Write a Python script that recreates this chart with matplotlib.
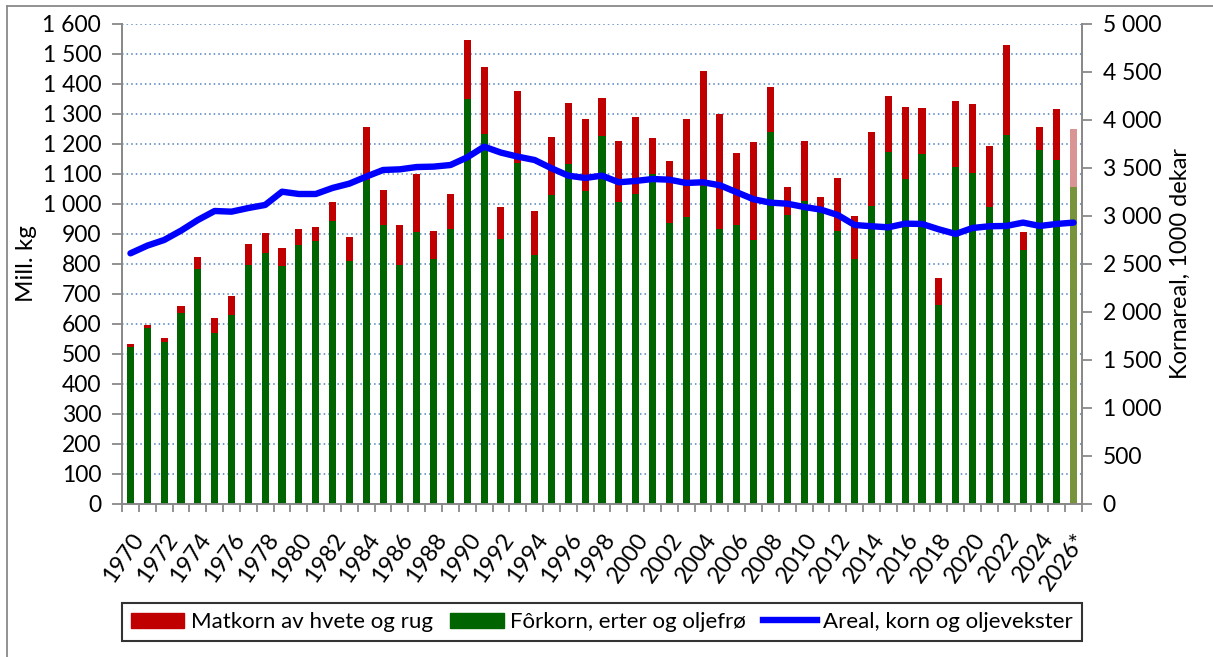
import matplotlib
matplotlib.use("Agg")
import matplotlib.pyplot as plt
import numpy as np
from matplotlib.patches import Patch
from matplotlib.lines import Line2D
from matplotlib.ticker import FuncFormatter, FixedLocator

plt.rcParams['font.family'] = ['Lato', 'DejaVu Sans']

years = [str(y) for y in range(1970, 2026)] + ["2026*"]

# totals (Mill. kg) read at the top of the red part
total = [533, 597, 554, 660, 824, 621, 694, 868, 902, 854,
         918, 922, 1008, 889, 1256, 1046, 931, 1101, 910, 1033,
         1546, 1456, 989, 1376, 978, 1223, 1337, 1282, 1352, 1209,
         1290, 1221, 1142, 1282, 1443, 1300, 1170, 1208, 1390, 1058,
         1211, 1024, 1088, 961, 1241, 1360, 1323, 1320, 753, 1343,
         1334, 1192, 1530, 906, 1258, 1317, 1250]
# Fôrkorn, erter og oljefrø (green part)
forkorn = [522, 585, 541, 638, 782, 571, 629, 797, 836, 794,
           862, 877, 943, 809, 1080, 929, 796, 907, 818, 916,
           1349, 1232, 884, 1136, 829, 1031, 1132, 1044, 1228, 1007,
           1034, 1101, 936, 958, 1061, 918, 931, 880, 1241, 962,
           1011, 975, 911, 817, 992, 1174, 1084, 1167, 663, 1124,
           1102, 991, 1231, 847, 1179, 1148, 1056]
# Areal, korn og oljevekster (1000 dekar)
areal = [2611, 2691, 2750, 2847, 2958, 3052, 3045, 3083, 3115, 3253,
         3229, 3229, 3292, 3337, 3410, 3479, 3486, 3510, 3514, 3531,
         3611, 3722, 3660, 3618, 3583, 3497, 3420, 3396, 3420, 3351,
         3365, 3385, 3378, 3344, 3351, 3320, 3247, 3174, 3139, 3128,
         3094, 3066, 3010, 2906, 2893, 2882, 2920, 2917, 2861, 2813,
         2875, 2893, 2896, 2931, 2896, 2917, 2931]

matkorn = [t - f for t, f in zip(total, forkorn)]

x = np.arange(len(years))
green_c = ['#006400'] * (len(years) - 1) + ['#77933C']
red_c = ['#C00000'] * (len(years) - 1) + ['#D99594']

fig = plt.figure(figsize=(12.13, 6.57), dpi=100)
ax = fig.add_axes([0.1006, 0.2329, 0.7914, 0.7306])
ax2 = ax.twinx()

ax.bar(x, forkorn, width=0.42, color=green_c, zorder=3)
ax.bar(x, matkorn, width=0.42, bottom=forkorn, color=red_c, zorder=3)
ax2.plot(x, areal, color='#0000FF', lw=4.6, solid_capstyle='round', zorder=4)

ax.set_xlim(-0.5, len(years) - 0.5)
ax.set_ylim(0, 1600)
ax2.set_ylim(0, 5000)
ax.set_yticks(np.arange(0, 1601, 100))
ax2.set_yticks(np.arange(0, 5001, 500))

fmt = FuncFormatter(lambda v, p: f"{int(v):,}".replace(",", " "))
ax.yaxis.set_major_formatter(fmt)
ax2.yaxis.set_major_formatter(fmt)

ax.grid(axis='y', color='#4F81BD', linestyle=(0, (1, 2)), lw=1.1, zorder=0)
ax.set_axisbelow(True)

ax.set_xticks(x[::2])
ax.set_xticklabels(years[::2], rotation=55, ha='right', rotation_mode='anchor')
ax.xaxis.set_minor_locator(FixedLocator(np.arange(-0.5, len(years), 1)))
ax.tick_params(axis='x', which='major', length=0, pad=18, labelsize=17)
ax.tick_params(axis='x', which='minor', length=6, width=1.3, color='#898989')
ax.tick_params(axis='y', length=7, width=1.3, color='#898989', labelsize=16.5, pad=8)
ax2.tick_params(axis='y', length=7, width=1.3, color='#898989', labelsize=16.5, pad=8)

for a in (ax, ax2):
    a.spines['top'].set_visible(False)
    for s in ('left', 'right', 'bottom'):
        a.spines[s].set_color('#898989')
        a.spines[s].set_linewidth(1.3)

ax.set_ylabel("Mill. kg", fontsize=17.5, labelpad=4)
ax2.set_ylabel("Kornareal, 1000 dekar", fontsize=17, labelpad=6)

handles = [Patch(color='#C00000'), Patch(color='#006400'),
           Line2D([0], [0], color='#0000FF', lw=4.6)]
labels = ["Matkorn av hvete og rug", "Fôrkorn, erter og oljefrø", "Areal, korn og oljevekster"]
leg = fig.legend(handles, labels, loc='lower left', ncol=3, mode='expand',
                 bbox_to_anchor=(0.1006, 0.0244, 0.7914, 0.064), fontsize=16,
                 fancybox=False, edgecolor='black', handlelength=2.4,
                 borderaxespad=0, handletextpad=0.3)
leg.get_frame().set_linewidth(1.5)

# outer chart border (only top and left edges visible)
fig.add_artist(Line2D([7 / 1213, 1], [1 - 6 / 657, 1 - 6 / 657], transform=fig.transFigure, color='#898989', lw=1.3))
fig.add_artist(Line2D([7 / 1213, 7 / 1213], [0, 1 - 6 / 657], transform=fig.transFigure, color='#898989', lw=1.3))

fig.savefig("out.png", dpi=100)
